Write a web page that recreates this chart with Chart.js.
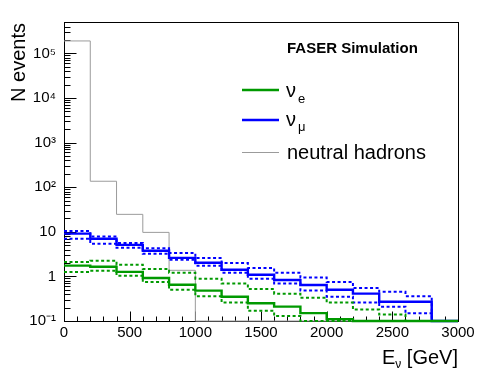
<!DOCTYPE html>
<html><head><meta charset="utf-8">
<script src="https://cdn.jsdelivr.net/npm/chart.js@4"></script>
<style>html,body{margin:0;padding:0;background:#fff}#wrap{width:498px;height:374px;position:relative}</style>
</head><body><div id="wrap"><canvas id="c"></canvas></div>
<script>
// ---- data (bin edges in GeV, 15 bins of 200 GeV) ----
const binEdges = [0,200,400,600,800,1000,1200,1400,1600,1800,2000,2200,2400,2600,2800,3000];
const nuE     = [1.74,1.65,1.26,0.92,0.65,0.48,0.35,0.25,0.21,0.15,0.11,0,0,0,0];
const nuEUp   = [2.10,2.25,1.83,1.47,1.21,0.89,0.69,0.52,0.41,0.33,0.26,0.18,0.14,0,0];
const nuELow  = [1.26,1.34,1.04,0.75,0.50,0.36,0.26,0.17,0.13,0.10,0,0,0,0,0];
const nuMu    = [9.1,7.0,5.1,3.77,2.6,2.03,1.41,1.09,0.83,0.64,0.50,0.41,0.27,0.27,0];
const nuMuUp  = [10.4,7.8,5.6,4.3,3.35,2.59,2.0,1.54,1.21,0.94,0.75,0.55,0.45,0.36,0];
const nuMuLow = [7.0,5.4,4.4,3.23,2.37,1.74,1.21,0.89,0.69,0.48,0.35,0.26,0.21,0.15,0];
const hadrons = [1.9e5,136,24.6,9.7,1.37,0,0,0,0,0,0,0,0,0,0];
const xTicks = [0,500,1000,1500,2000,2500,3000];
const yTicks = [0.1,1,10,100,1000,10000,100000];
const yTickLabels = ['10\u207B\u00B9','1','10','10\u00B2','10\u00B3','10\u2074','10\u2075'];
const legendLabels = ['FASER Simulation','neutral hadrons'];

const yMin = 0.1, yMax = 4.8e5;
const GREEN = '#009900', BLUE = '#0000ff', GRAY = '#9b9b9b';
const FONT = '"Liberation Sans", Arial, Helvetica, sans-serif';

function pts(vals){
  const p = vals.map((v,i)=>({x:binEdges[i], y:Math.max(v,yMin)}));
  p.push({x:binEdges[binEdges.length-1], y:Math.max(vals[vals.length-1],yMin)});
  return p;
}
function ds(vals,color,width,dash){
  return {data:pts(vals),borderColor:color,borderWidth:width,borderDash:dash||[],
    stepped:true,pointRadius:0,fill:false,tension:0,clip:false,borderCapStyle:'butt'};
}

const rootStyle = {
  id:'rootStyle',
  beforeDatasetsDraw(chart){
    const ctx = chart.ctx, a = chart.chartArea, xs = chart.scales.x, ys = chart.scales.y;
    ctx.save();
    ctx.strokeStyle = '#000'; ctx.lineWidth = 1;
    const L = Math.round(a.left)+0.5, R = Math.round(a.right)+0.5, T = Math.round(a.top)-0.5, B = Math.round(a.bottom)+0.5;
    ctx.beginPath();
    for (let v=0; v<=3000; v+=100){
      const px = Math.round(xs.getPixelForValue(v))+0.5;
      const len = (v%500===0)?10:5;
      ctx.moveTo(px,B); ctx.lineTo(px,B-len);
    }
    for (let n=-1; n<=5; n++){
      for (let k=1; k<=9; k++){
        const v = k*Math.pow(10,n);
        if (v<yMin || v>yMax) continue;
        const py = Math.round(ys.getPixelForValue(v))+0.5;
        const len = (k===1)?12:6;
        ctx.moveTo(L,py); ctx.lineTo(L+len,py);
      }
    }
    ctx.stroke();
    ctx.strokeRect(L,T,R-L,B-T);
    ctx.restore();
  },
  afterDraw(chart){
    const ctx = chart.ctx, a = chart.chartArea;
    ctx.save();
    ctx.fillStyle = '#000';
    ctx.textBaseline = 'alphabetic';
    ctx.save();
    ctx.translate(25, a.top);
    ctx.rotate(-Math.PI/2);
    ctx.font = '20px '+FONT; ctx.textAlign = 'right';
    ctx.fillText('N events', 0, 0);
    ctx.restore();
    ctx.textAlign = 'left';
    ctx.font = '20px '+FONT; const wE = ctx.measureText('E').width;
    const wG = ctx.measureText(' [GeV]').width;
    ctx.font = '12px '+FONT; const wN = ctx.measureText('\u03BD').width;
    let x0 = a.right - (wE+wN+wG);
    ctx.font = '20px '+FONT; ctx.fillText('E', x0, 364);
    ctx.font = '12px '+FONT; ctx.fillText('\u03BD', x0+wE, 368);
    ctx.font = '20px '+FONT; ctx.fillText(' [GeV]', x0+wE+wN, 364);
    ctx.font = 'bold 15px '+FONT;
    ctx.fillText(legendLabels[0], 287, 53);
    const lines = [[GREEN,2.4,90],[BLUE,2.4,120],[GRAY,1,152.5]];
    lines.forEach(([c,w,y])=>{ctx.strokeStyle=c;ctx.lineWidth=w;ctx.beginPath();ctx.moveTo(242,y);ctx.lineTo(279,y);ctx.stroke();});
    ctx.font = '20px '+FONT; ctx.fillText('\u03BD', 286, 97);
    ctx.font = '13px '+FONT; ctx.fillText('e', 298, 103);
    ctx.font = '20px '+FONT; ctx.fillText('\u03BD', 286, 126);
    ctx.font = '13px '+FONT; ctx.fillText('\u03BC', 298, 131);
    ctx.font = '20px '+FONT; ctx.fillText(legendLabels[1], 287, 159);
    ctx.restore();
  }
};

new Chart(document.getElementById('c'), {
  type:'line',
  data:{datasets:[
    ds(nuE,GREEN,2.4), ds(nuEUp,GREEN,2,[3,2.5]), ds(nuELow,GREEN,2,[3,2.5]),
    ds(nuMu,BLUE,2.4), ds(nuMuUp,BLUE,2,[3,2.5]), ds(nuMuLow,BLUE,2,[3,2.5]),
    ds(hadrons,GRAY,1)
  ]},
  options:{
    responsive:true, maintainAspectRatio:false, animation:false,
    layout:{padding:{left:0,right:40,top:23,bottom:0}},
    plugins:{legend:{display:false},tooltip:{enabled:false}},
    scales:{
      x:{type:'linear',min:0,max:3000,
        grid:{display:false,drawTicks:false},border:{display:false},
        afterBuildTicks:s=>{s.ticks = xTicks.map(v=>({value:v}));},
        afterFit:s=>{s.height = 53;},
        ticks:{color:'#000',font:{family:FONT,size:15},padding:3,maxRotation:0,autoSkip:false,
          callback:(v)=>String(v)}},
      y:{type:'logarithmic',min:yMin,max:yMax,
        grid:{display:false,drawTicks:false},border:{display:false},
        afterBuildTicks:s=>{s.ticks = yTicks.map(v=>({value:v}));},
        afterFit:s=>{s.width = 64;},
        ticks:{color:'#000',font:{family:FONT,size:15},padding:8,autoSkip:false,
          callback:(v)=>yTickLabels[yTicks.indexOf(v)]}}
    }
  },
  plugins:[rootStyle]
});
</script></body></html>
